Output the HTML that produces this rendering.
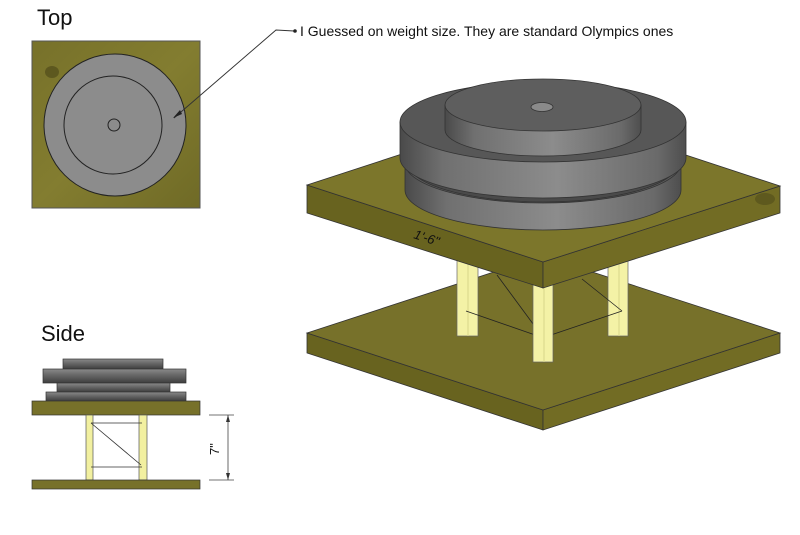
<!DOCTYPE html>
<html><head><meta charset="utf-8"><style>
html,body{margin:0;padding:0;background:#fff;}
svg{display:block;font-family:"Liberation Sans",sans-serif;}
</style></head><body>
<svg width="800" height="535" viewBox="0 0 800 535" xmlns="http://www.w3.org/2000/svg">
<defs>
<linearGradient id="cyl" x1="0" x2="1" y1="0" y2="0">
<stop offset="0" stop-color="#4a4a4a"/><stop offset="0.15" stop-color="#707070"/><stop offset="0.55" stop-color="#8c8c8c"/><stop offset="0.9" stop-color="#6a6a6a"/><stop offset="1" stop-color="#4e4e4e"/>
</linearGradient>
<linearGradient id="sidecyl" x1="0" x2="0" y1="0" y2="1">
<stop offset="0" stop-color="#8a8a8a"/><stop offset="0.4" stop-color="#6a6a6a"/><stop offset="1" stop-color="#3e3e3e"/>
</linearGradient>
<linearGradient id="wood" x1="0" x2="1" y1="0" y2="1">
<stop offset="0" stop-color="#77712a"/><stop offset="0.5" stop-color="#837d30"/><stop offset="1" stop-color="#6f6a26"/>
</linearGradient>
</defs>

<!-- TOP VIEW -->
<text x="37" y="25" font-size="22" fill="#111">Top</text>
<rect x="32" y="41" width="168" height="167" fill="url(#wood)" stroke="#555" stroke-width="1"/>
<ellipse cx="52" cy="72" rx="7" ry="6" fill="#4a4518" opacity="0.6"/>
<circle cx="115" cy="125" r="71" fill="#8c8c8c" stroke="#222" stroke-width="1"/>
<circle cx="113" cy="125" r="49" fill="none" stroke="#222" stroke-width="1"/>
<circle cx="114" cy="125" r="6" fill="none" stroke="#222" stroke-width="1"/>
<polyline points="174,118 276,30 294,31" fill="none" stroke="#333" stroke-width="1"/>
<polygon points="173,118 180,110 182,114" fill="#222"/>
<circle cx="295" cy="31" r="1.8" fill="#222"/>
<text x="300" y="36" font-size="14" fill="#111">I Guessed on weight size. They are standard Olympics ones</text>

<!-- SIDE VIEW -->
<text x="41" y="341" font-size="22" fill="#111">Side</text>
<rect x="63" y="359" width="100" height="10" fill="url(#sidecyl)" stroke="#333" stroke-width="0.7"/>
<rect x="43" y="369" width="143" height="14" fill="url(#sidecyl)" stroke="#333" stroke-width="0.7"/>
<rect x="57" y="383" width="113" height="9" fill="url(#sidecyl)" stroke="#333" stroke-width="0.7"/>
<rect x="46" y="392" width="140" height="9" fill="url(#sidecyl)" stroke="#333" stroke-width="0.7"/>
<rect x="32" y="401" width="168" height="14" fill="#77712a" stroke="#333" stroke-width="0.7"/>
<rect x="86" y="415" width="7" height="65" fill="#f2f0a0" stroke="#555" stroke-width="0.7"/>
<rect x="139" y="415" width="8" height="65" fill="#f2f0a0" stroke="#555" stroke-width="0.7"/>
<rect x="32" y="480" width="168" height="9" fill="#77712a" stroke="#333" stroke-width="0.7"/>
<line x1="91" y1="423" x2="142" y2="423" stroke="#333" stroke-width="0.8"/>
<line x1="91" y1="467" x2="142" y2="467" stroke="#333" stroke-width="0.8"/>
<line x1="91" y1="423" x2="141" y2="465" stroke="#333" stroke-width="0.8"/>
<line x1="209" y1="415" x2="234" y2="415" stroke="#444" stroke-width="0.8"/>
<line x1="209" y1="480" x2="234" y2="480" stroke="#444" stroke-width="0.8"/>
<line x1="228" y1="415" x2="228" y2="480" stroke="#444" stroke-width="0.8"/>
<polygon points="228,415 226,422 230,422" fill="#333"/>
<polygon points="228,480 226,473 230,473" fill="#333"/>
<text x="0" y="0" font-size="13" fill="#111" transform="translate(219,455) rotate(-90)">7"</text>

<!-- ISO VIEW: bottom board -->
<polygon points="307,333 543,410 543,430 307,353" fill="#68631f" stroke="#333" stroke-width="0.8"/>
<polygon points="543,410 780,333 780,353 543,430" fill="#726c24" stroke="#333" stroke-width="0.8"/>
<polygon points="307,333 543,256 780,333 543,410" fill="#77712a" stroke="#333" stroke-width="0.8"/>
<!-- back legs -->
<rect x="457" y="250" width="21" height="86" fill="#f4f2a6" stroke="#666" stroke-width="0.7"/>
<line x1="468" y1="250" x2="468" y2="336" stroke="#d8d68a" stroke-width="1"/>
<rect x="608" y="250" width="20" height="86" fill="#f4f2a6" stroke="#666" stroke-width="0.7"/>
<line x1="619" y1="250" x2="619" y2="336" stroke="#d8d68a" stroke-width="1"/>
<!-- braces -->
<g stroke="#222" stroke-width="0.8" fill="none">
<line x1="466" y1="311" x2="538" y2="336"/>
<line x1="548" y1="336" x2="622" y2="311"/>
<line x1="497" y1="275" x2="539" y2="332"/>
<line x1="582" y1="279" x2="622" y2="311"/>
</g>
<rect x="533" y="285" width="20" height="77" fill="#f4f2a6" stroke="#666" stroke-width="0.7"/>
<line x1="544" y1="285" x2="544" y2="362" stroke="#d8d68a" stroke-width="1"/>

<!-- top board -->
<polygon points="307,185 543,262 543,288 307,213" fill="#68631f" stroke="#333" stroke-width="0.8"/>
<polygon points="543,262 780,186 780,213 543,288" fill="#726c24" stroke="#333" stroke-width="0.8"/>
<polygon points="307,185 543,108 780,186 543,262" fill="#7c762b" stroke="#333" stroke-width="0.8"/>
<ellipse cx="765" cy="199" rx="10" ry="6" fill="#4a4518" opacity="0.5"/>
<text x="0" y="0" font-size="13" fill="#111" font-style="italic" transform="translate(413,238) rotate(18)">1'-6"</text>

<!-- lower plate -->
<path d="M405,163 L405,190 A138,40 0 0 0 681,190 L681,163 Z" fill="url(#cyl)" stroke="#333" stroke-width="0.8"/>
<ellipse cx="543" cy="163" rx="138" ry="40" fill="#5a5a5a" stroke="#333" stroke-width="0.8"/>
<!-- groove -->
<path d="M407,155 L407,162 A136,40 0 0 0 679,162 L679,155 Z" fill="#4a4a4a" stroke="#333" stroke-width="0.8"/>
<!-- big plate -->
<path d="M400,122 L400,158 A143,40 0 0 0 686,158 L686,122 Z" fill="url(#cyl)" stroke="#333" stroke-width="0.8"/>
<ellipse cx="543" cy="122" rx="143" ry="40" fill="#575757" stroke="#333" stroke-width="0.8"/>
<!-- small plate -->
<path d="M445,105 L445,130 A98,26 0 0 0 641,130 L641,105 Z" fill="url(#cyl)" stroke="#333" stroke-width="0.8"/>
<ellipse cx="543" cy="105" rx="98" ry="26" fill="#5e5e5e" stroke="#333" stroke-width="0.8"/>
<ellipse cx="542" cy="107" rx="11" ry="4.5" fill="#8a8a8a" stroke="#333" stroke-width="0.8"/>
</svg>
</body></html>
